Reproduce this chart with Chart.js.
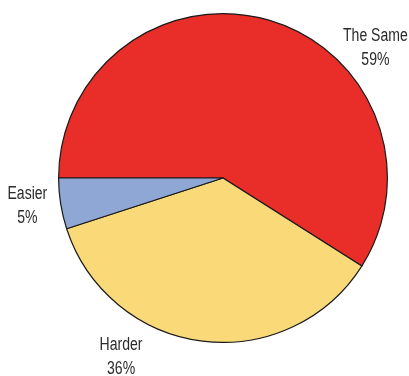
<!DOCTYPE html>
<html>
<head>
<meta charset="utf-8">
<script src="https://cdn.jsdelivr.net/npm/chart.js@4.4.1/dist/chart.umd.min.js"></script>
<style>
  html, body { margin: 0; padding: 0; background: #ffffff; }
  #wrap { width: 409px; height: 376px; position: relative; }
</style>
</head>
<body>
<div id="wrap"><canvas id="chart"></canvas></div>
<script>
// Survey answers and their shares (percent)
const categories = ['The Same', 'Harder', 'Easier'];
const shares = [59, 36, 5];
const sliceColors = ['#E92D28', '#FADA78', '#8FA7D4'];

// Where each outside label sits, as a fraction of the pie radius from its centre
const labelOffsets = {
  'The Same': [0.927, -0.79],
  'Harder': [-0.62, 1.09],
  'Easier': [-1.19, 0.168]
};

// Labels are drawn in a narrowed sans face
const labelSquash = 0.78;

const outsideLabels = {
  id: 'outsideLabels',
  afterDatasetsDraw(chart) {
    const ctx = chart.ctx;
    const meta = chart.getDatasetMeta(0);
    const arc0 = meta.data[0];
    const cx = arc0.x, cy = arc0.y, r = arc0.outerRadius;
    ctx.save();
    ctx.fillStyle = '#2b2b2b';
    ctx.textAlign = 'center';
    ctx.textBaseline = 'middle';
    ctx.font = '18px "Liberation Sans", Arial, sans-serif';
    chart.data.labels.forEach((name, i) => {
      const off = labelOffsets[name];
      const x = cx + off[0] * r;
      const y = cy + off[1] * r;
      ctx.save();
      ctx.translate(x, y);
      ctx.scale(labelSquash, 1);
      ctx.fillText(name, 0, -12);
      ctx.fillText(chart.data.datasets[0].data[i] + '%', 0, 12);
      ctx.restore();
    });
    ctx.restore();
  }
};

new Chart(document.getElementById('chart'), {
  type: 'pie',
  data: {
    labels: categories,
    datasets: [{
      data: shares,
      backgroundColor: sliceColors,
      borderColor: '#1a1a1a',
      borderWidth: 1.2
    }]
  },
  options: {
    responsive: true,
    maintainAspectRatio: false,
    animation: false,
    rotation: 270,
    layout: { padding: { top: 13, bottom: 33, left: 58, right: 21 } },
    plugins: {
      legend: { display: false },
      tooltip: { enabled: false }
    }
  },
  plugins: [outsideLabels]
});
</script>
</body>
</html>
